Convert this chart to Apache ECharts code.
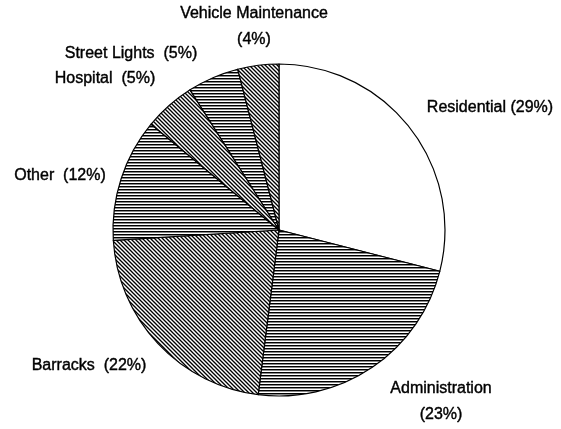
<!DOCTYPE html>
<html>
<head>
<meta charset="utf-8">
<script src="https://cdn.jsdelivr.net/npm/echarts@6/dist/echarts.min.js"></script>
<style>
html,body{margin:0;padding:0;background:#fff;}
#chart{width:561px;height:429px;}
</style>
</head>
<body>
<div id="chart"></div>
<script>
// ---- data ----
var categories = ['Residential', 'Administration', 'Barracks', 'Other', 'Hospital', 'Street Lights', 'Vehicle Maintenance'];
var values = [29, 23, 22, 12, 5, 5, 4];
var patterns = ['none', 'horizontal', 'diagonal', 'horizontal', 'diagonal', 'horizontal', 'diagonal'];
var labelSep = [' ', '\n', '  ', '  ', '  ', '  ', '\n'];

// ---- label layout (centres in px) ----
var labelPos = [
  [490, 108], [441, 402], [89, 366], [60, 176], [105, 79], [131, 54], [254, 27]
];

function makeHorizontal() {
  var c = document.createElement('canvas');
  c.width = 6; c.height = 3;
  var g = c.getContext('2d');
  g.fillStyle = '#fff'; g.fillRect(0, 0, 6, 3);
  g.fillStyle = '#000'; g.fillRect(0, 0, 6, 1);
  g.fillStyle = '#555'; g.fillRect(0, 1, 6, 0.7);
  return c;
}
function makeDiagonal() {
  var s = 4;
  var c = document.createElement('canvas');
  c.width = s; c.height = s;
  var g = c.getContext('2d');
  g.fillStyle = '#fff'; g.fillRect(0, 0, s, s);
  g.strokeStyle = '#000'; g.lineWidth = 1.35;
  g.beginPath();
  g.moveTo(-1, -1); g.lineTo(s + 1, s + 1);
  g.moveTo(-1, s - 1); g.lineTo(1, s + 1);
  g.moveTo(s - 1, -1); g.lineTo(s + 1, 1);
  g.stroke();
  return c;
}
var hPat = makeHorizontal();
var dPat = makeDiagonal();
function fillFor(p) {
  if (p === 'horizontal') return { image: hPat, repeat: 'repeat' };
  if (p === 'diagonal') return { image: dPat, repeat: 'repeat' };
  return '#ffffff';
}

var seriesData = categories.map(function (name, i) {
  return {
    name: name,
    value: values[i],
    itemStyle: { color: fillFor(patterns[i]) }
  };
});

var chart = echarts.init(document.getElementById('chart'), null, { renderer: 'canvas' });
chart.setOption({
  backgroundColor: '#ffffff',
  animation: false,
  series: [{
    type: 'pie',
    center: [279, 230],
    radius: 166,
    startAngle: 90,
    clockwise: true,
    data: seriesData,
    itemStyle: { borderColor: '#000', borderWidth: 1.2 },
    label: {
      show: true,
      position: 'outside',
      overflow: 'none',
      color: '#000',
      textBorderColor: '#000',
      textBorderWidth: 0.4,
      fontFamily: '"Liberation Sans", Arial, sans-serif',
      fontSize: 16,
      lineHeight: 26,
      align: 'center',
      formatter: function (p) {
        var i = p.dataIndex;
        return p.name + labelSep[i] + '(' + p.value + '%)';
      }
    },
    labelLine: { show: false },
    labelLayout: function (params) {
      var pos = labelPos[params.dataIndex];
      return { x: pos[0], y: pos[1], align: 'center', verticalAlign: 'middle' };
    },
    emphasis: { disabled: true }
  }]
});
</script>
</body>
</html>
